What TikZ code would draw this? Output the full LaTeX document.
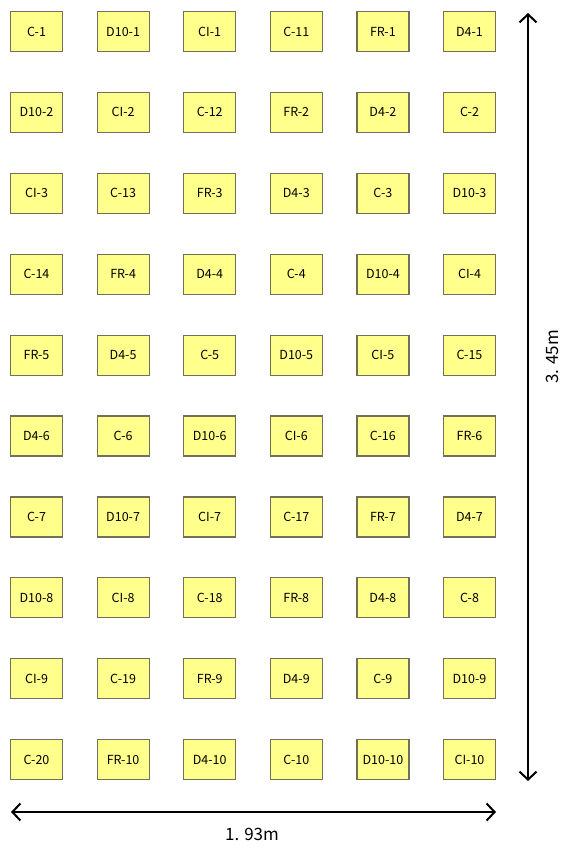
\documentclass[tikz,border=0pt]{standalone}
\usepackage{fontspec}
\setmainfont{Noto Sans CJK JP}
\usetikzlibrary{arrows.meta}
\definecolor{boxfill}{RGB}{255,255,140}
\definecolor{boxline}{RGB}{115,112,90}
\begin{document}
\begin{tikzpicture}[x=1pt,y=-1pt,
  cell/.style={draw=boxline,fill=boxfill,line width=1.2pt,minimum width=52pt,minimum height=40pt,inner sep=0pt,font=\fontsize{12.5}{14}\selectfont},
  dimarrow/.style={line width=2.4pt,{Straight Barb[length=8pt,width=17pt,line width=2pt]}-{Straight Barb[length=8pt,width=17pt,line width=2pt]}},
  dimlabel/.style={font=\fontsize{17}{19}\selectfont}]
\useasboundingbox (0,0) rectangle (563,849);
\foreach \r/\labels in {1/{C-1,D10-1,CI-1,C-11,FR-1,D4-1},
  2/{D10-2,CI-2,C-12,FR-2,D4-2,C-2},
  3/{CI-3,C-13,FR-3,D4-3,C-3,D10-3},
  4/{C-14,FR-4,D4-4,C-4,D10-4,CI-4},
  5/{FR-5,D4-5,C-5,D10-5,CI-5,C-15},
  6/{D4-6,C-6,D10-6,CI-6,C-16,FR-6},
  7/{C-7,D10-7,CI-7,C-17,FR-7,D4-7},
  8/{D10-8,CI-8,C-18,FR-8,D4-8,C-8},
  9/{CI-9,C-19,FR-9,D4-9,C-9,D10-9},
  10/{C-20,FR-10,D4-10,C-10,D10-10,CI-10}}{
  \foreach \t [count=\c] in \labels {
    \node[cell] (b-\r-\c) at ({36.5+86.6*(\c-1)},{31.5+80.9*(\r-1)}) {\t};
  }
}
\coordinate (vtop) at (528,13);
\coordinate (vbot) at (528,781);
\coordinate (hl) at (11,812);
\coordinate (hr) at (496,812);
\draw[dimarrow] (vtop) -- (vbot);
\draw[dimarrow] (hl) -- (hr);
\node[dimlabel,rotate=90] (lv) at (552,357) {3. 45m};
\node[dimlabel] (lh) at (252,834) {1. 93m};
\end{tikzpicture}
\end{document}
